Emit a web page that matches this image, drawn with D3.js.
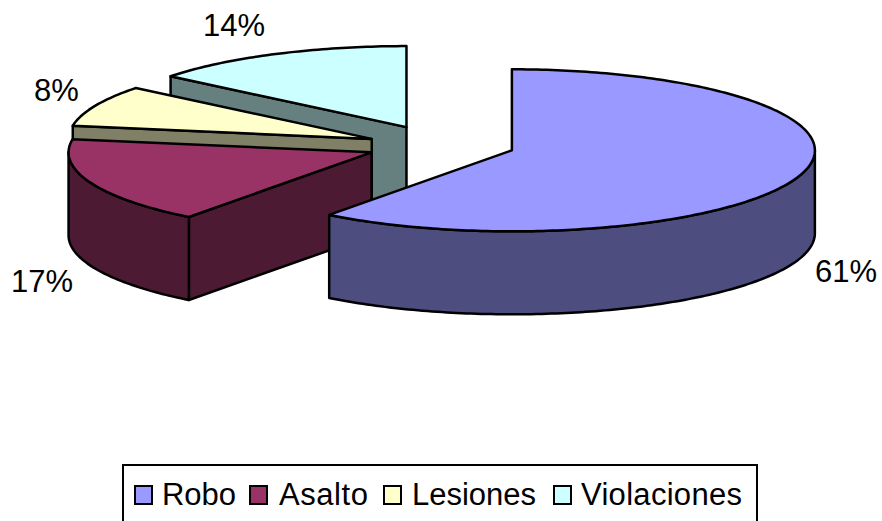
<!DOCTYPE html>
<html lang="en">
<head>
    <meta charset="UTF-8">
    <script src="https://d3js.org/d3.v7.min.js"></script>
    <title>Delitos</title>
    <style>
        html, body { margin: 0; padding: 0; background: #fff; overflow: hidden; }
        text { font-family: 'Liberation Sans', Arial, sans-serif; font-size: 31px; fill: #000; }
    </style>
</head>
<body>
<script>
    const categories = ["Robo", "Asalto", "Lesiones", "Violaciones"];
    const values = [60.3, 17.3, 8.2, 14.2];
    const percentLabels = ["61%", "17%", "8%", "14%"];

    const topColors = ["#9999ff", "#993366", "#ffffcc", "#ccffff"];
    const sideColors = ["#4d4d80", "#4d1a33", "#808066", "#668080"];

    const width = 882, height = 521;
    const cx = 441.5, cy = 145, rx = 303, ry = 81, depth = 83, explode = 0.245;
    // small per-slice corrections of the exploded position, in px
    const sliceNudge = [[0, -1], [-1, 0], [-2, 2], [-3, 0]];
    // label anchors, by slice
    const labelAnchors = [[815, 282], [11, 292], [34, 101], [203, 36]];

    const x = d3.scaleLinear().domain([-1, 1]).range([cx - rx, cx + rx]);
    const y = d3.scaleLinear().domain([-1, 1]).range([cy + ry, cy - ry]);

    const svg = d3.select("body").append("svg")
            .attr("width", width).attr("height", height)
            .style("display", "block");

    const slices = d3.pie().sort(null)(values);

    const centre = d => {
        const mid = (d.startAngle + d.endAngle) / 2;
        return [explode * Math.sin(mid), explode * Math.cos(mid)];
    };
    const rim = (d, a, drop) => {
        const c = centre(d);
        return [c[0] + Math.sin(a), c[1] + Math.cos(a), drop || 0];
    };
    const arcAngles = (a0, a1) => {
        const n = Math.max(2, Math.ceil((a1 - a0) * 60));
        return d3.range(n + 1).map(i => a0 + (a1 - a0) * i / n);
    };

    function drawFace(points, fill, nudge) {
        const line = d3.line()
                .x(d => x(d[0]) + nudge[0])
                .y(d => y(d[1]) + nudge[1] + (d[2] || 0));
        svg.append("path")
                .attr("d", line(points) + "Z")
                .attr("fill", fill)
                .attr("stroke", "#000")
                .attr("stroke-width", 2.5)
                .attr("stroke-linejoin", "round");
    }

    // back slices first so the front ones cover them
    [3, 2, 1, 0].forEach(i => {
        const d = slices[i];
        const c = centre(d);
        const a0 = d.startAngle, a1 = d.endAngle;

        // cut wall on the left half faces the viewer
        if (Math.sin(a0) < 0) {
            drawFace([[c[0], c[1], 0], rim(d, a0), rim(d, a0, depth), [c[0], c[1], depth]], sideColors[i], sliceNudge[i]);
        }

        // outer rim, only the part facing the viewer
        const from = Math.max(a0, Math.PI / 2), to = Math.min(a1, Math.PI * 1.5);
        if (to > from) {
            const edge = arcAngles(from, to);
            drawFace(edge.map(a => rim(d, a)).concat(edge.slice().reverse().map(a => rim(d, a, depth))), sideColors[i], sliceNudge[i]);
        }

        const top = [[c[0], c[1], 0]].concat(arcAngles(a0, a1).map(a => rim(d, a)));
        drawFace(top, topColors[i], sliceNudge[i]);
    });

    svg.selectAll("text.pct").data(percentLabels).join("text")
            .attr("class", "pct")
            .attr("x", (d, i) => labelAnchors[i][0])
            .attr("y", (d, i) => labelAnchors[i][1])
            .text(d => d);

    // legend, runs off the bottom of the picture
    svg.append("rect")
            .attr("x", 123).attr("y", 465).attr("width", 634).attr("height", 70)
            .attr("fill", "#fff").attr("stroke", "#000").attr("stroke-width", 2);

    const legendSwatchX = [135, 250, 384, 554];
    const legendTextX = [162, 279, 412, 581];
    const legendTextWidth = [74, 89, 124, 161];

    const legend = svg.selectAll("g.key").data(categories).join("g").attr("class", "key");
    legend.append("rect")
            .attr("x", (d, i) => legendSwatchX[i]).attr("y", 486)
            .attr("width", 17).attr("height", 18)
            .attr("fill", (d, i) => topColors[i])
            .attr("stroke", "#000").attr("stroke-width", 2);
    legend.append("text")
            .attr("x", (d, i) => legendTextX[i]).attr("y", 505)
            .attr("textLength", (d, i) => legendTextWidth[i])
            .text(d => d);
</script>
</body>
</html>
